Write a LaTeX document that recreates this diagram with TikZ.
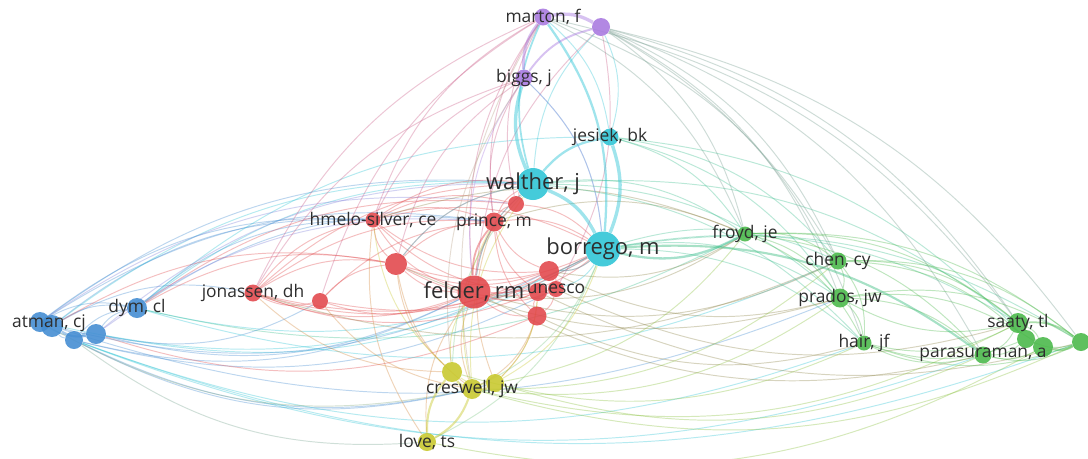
\documentclass[tikz,border=0pt]{standalone}
\usepackage{fontspec}
\setmainfont{Open Sans}
\usetikzlibrary{calc, backgrounds}
\definecolor{vred}{RGB}{226,70,74}
\definecolor{vgreen}{RGB}{72,184,72}
\definecolor{vblue}{RGB}{66,140,210}
\definecolor{vyellow}{RGB}{200,200,44}
\definecolor{vpurple}{RGB}{168,120,224}
\definecolor{vcyan}{RGB}{44,196,214}
\tikzset{
  item/.style = {circle, inner sep=0pt, draw=none, fill opacity=.88,
                 minimum size=#1*0.02cm}, % diameter given in pixels
  lbl/.style  = {inner sep=0pt, text=black!82, font=\fontsize{9.9}{11}\selectfont},
  biglbl/.style = {lbl, font=\fontsize{12.5}{14}\selectfont},
  link/.style = {line width=.55pt, draw opacity=.35},
  heavy/.style = {draw opacity=.45}
}
\begin{document}
\begin{tikzpicture}[x=0.02cm, y=-0.02cm]
  \useasboundingbox (0,0) rectangle (1088,458);

  % blue cluster
  \node [item=20, fill=vblue] (atmanA) at (40,322) {};
  \node [item=22, fill=vblue] (atmanB) at (52,326) {};
  \node [item=18, fill=vblue] (blueC) at (74,340) {};
  \node [item=20, fill=vblue] (blueD) at (96,334) {};
  \node [item=20, fill=vblue] (dym) at (137,308) {};
  % red cluster
  \node [item=17, fill=vred] (jonassen) at (253,293) {};
  \node [item=16, fill=vred] (redA) at (320,301) {};
  \node [item=15, fill=vred] (hmelo) at (373,220) {};
  \node [item=22, fill=vred] (redB) at (396,264) {};
  \node [item=19, fill=vred] (prince) at (494,222) {};
  \node [item=16, fill=vred] (redC) at (516,204) {};
  \node [item=33, fill=vred] (felder) at (474,292) {};
  \node [item=20, fill=vred] (redD) at (549,271) {};
  \node [item=18, fill=vred] (unescoA) at (538,292) {};
  \node [item=16, fill=vred] (unescoB) at (556,289) {};
  \node [item=19, fill=vred] (redE) at (537,316) {};
  % cyan cluster
  \node [item=32, fill=vcyan] (walther) at (533,184) {};
  \node [item=35, fill=vcyan] (borrego) at (603,249) {};
  \node [item=17, fill=vcyan] (jesiek) at (610,137) {};
  % purple cluster
  \node [item=17, fill=vpurple] (marton) at (543,17) {};
  \node [item=18, fill=vpurple] (purpleA) at (601,27) {};
  \node [item=17, fill=vpurple] (biggs) at (524,78) {};
  % green cluster
  \node [item=15, fill=vgreen] (froyd) at (745,234) {};
  \node [item=17, fill=vgreen] (chen) at (838,261) {};
  \node [item=19, fill=vgreen] (prados) at (840,298) {};
  \node [item=15, fill=vgreen] (hair) at (864,343) {};
  \node [item=20, fill=vgreen] (saaty) at (1018,323) {};
  \node [item=18, fill=vgreen] (greenA) at (1026,339) {};
  \node [item=20, fill=vgreen] (greenB) at (1043,347) {};
  \node [item=18, fill=vgreen] (greenC) at (1081,342) {};
  \node [item=17, fill=vgreen] (parasuraman) at (983,355) {};
  % yellow cluster
  \node [item=20, fill=vyellow] (creswellA) at (452,372) {};
  \node [item=20, fill=vyellow] (creswell) at (472,389) {};
  \node [item=18, fill=vyellow] (creswellB) at (495,383) {};
  \node [item=18, fill=vyellow] (love) at (427,442) {};

  \begin{pgfonlayer}{background}
    \fill [white] (0,0) rectangle (1088,458);
    % thin links, bent away from the middle of the map
    \foreach \a/\b/\c in {
      atmanA/dym/vblue, atmanB/dym/vblue, blueC/dym/vblue, blueD/dym/vblue,
      atmanA/blueD/vblue, atmanB/blueC/vblue, atmanB/jonassen/vblue,
      atmanA/hmelo/vblue, atmanB/hmelo/vblue, atmanA/prince/vblue,
      atmanB/walther/vcyan, atmanA/walther/vblue, dym/walther/vcyan,
      dym/hmelo/vblue, dym/prince/vblue, dym/borrego/vcyan, atmanA/borrego/vcyan,
      blueD/borrego/vcyan, blueC/felder/vblue, blueD/felder/vblue,
      atmanB/redB/vred, dym/redB/vred, blueC/unescoB/vblue, blueD/redE/vred,
      blueC/creswellB/vblue, blueC/greenC/vcyan, dym/jesiek/vcyan,
      dym/froyd/vcyan!50!vgreen, blueD/redA/vblue, dym/redC/vred,
      atmanB/redD/vblue, blueC/creswell/vblue, atmanA/redC/vpurple!60!vblue,
      blueC/hair/vcyan, atmanB/prados/vblue, blueD/prince/vpurple!60!vblue,
      blueD/walther/vpurple!60!vblue, blueC/parasuraman/vcyan, dym/chen/vcyan,
      jonassen/redA/vred, jonassen/hmelo/vred, jonassen/felder/vred,
      jonassen/prince/vred, jonassen/redB/vred, jonassen/borrego/vred,
      jonassen/walther/vred, jonassen/redD/vred, jonassen/unescoA/vred,
      hmelo/redB/vred, hmelo/prince/vred, hmelo/felder/vred, hmelo/redC/vred,
      hmelo/walther/vred, hmelo/borrego/vred, hmelo/unescoA/vred, hmelo/redD/vred,
      redA/felder/vred, redA/redB/vred, redA/prince/vred, redA/borrego/vred,
      redB/felder/vred, redB/prince/vred, redB/redD/vred, redB/borrego/vred,
      redB/unescoB/vred, redB/walther/vred, prince/redC/vred, prince/redD/vred,
      prince/walther/vred, prince/borrego/vred, prince/unescoA/vred,
      prince/redE/vred, felder/redD/vred, felder/unescoA/vred, felder/unescoB/vred,
      felder/redE/vred, felder/borrego/vred, felder/walther/vred, felder/redC/vred,
      redD/unescoB/vred, redD/borrego/vred, unescoA/redE/vred, unescoB/redE/vred,
      unescoA/unescoB/vred, redC/walther/vred, redC/borrego/vred,
      hmelo/marton/vred!60!vpurple, jonassen/marton/vred!60!vpurple,
      redB/biggs/vred!60!vpurple, felder/marton/vred!60!vpurple,
      prince/biggs/vred!60!vpurple, felder/purpleA/vred!60!vpurple,
      redC/marton/vred!60!vpurple, hmelo/biggs/vred!60!vpurple,
      redA/marton/vred!60!vpurple, unescoB/purpleA/vred!60!vpurple,
      prince/marton/vred!60!vpurple, jonassen/biggs/vred!60!vpurple,
      felder/froyd/vred!45!vgreen, felder/chen/vred!45!vgreen,
      redD/froyd/vred!45!vgreen, unescoB/saaty/vred!45!vgreen,
      redE/hair/vred!45!vgreen, felder/parasuraman/vred!45!vgreen,
      prince/froyd/vred!45!vgreen, redB/prados/vred!45!vgreen,
      hmelo/froyd/vred!45!vgreen, jonassen/chen/vred!45!vgreen,
      redD/prados/vred!45!vgreen, unescoA/greenC/vred!45!vgreen,
      felder/creswell/vred!50!vyellow, jonassen/creswellA/vred!50!vyellow,
      redB/creswellA/vred!50!vyellow, hmelo/love/vred!50!vyellow,
      prince/creswellB/vred!50!vyellow, redA/creswell/vred!50!vyellow,
      redE/creswell/vred!50!vyellow, unescoA/creswellB/vred!50!vyellow,
      felder/love/vred!50!vyellow, redB/creswell/vred!50!vyellow,
      jesiek/purpleA/vcyan, jesiek/marton/vcyan, borrego/biggs/vcyan,
      walther/purpleA/vcyan, walther/felder/vcyan, borrego/redD/vcyan,
      borrego/unescoB/vcyan, walther/redB/vcyan,
      borrego/creswell/vcyan!50!vyellow, walther/creswellA/vcyan!50!vyellow,
      borrego/love/vcyan!50!vyellow,
      borrego/chen/vcyan!50!vgreen, borrego/prados/vcyan!50!vgreen,
      borrego/hair/vcyan!50!vgreen, borrego/saaty/vcyan!50!vgreen,
      borrego/greenC/vcyan!50!vgreen, walther/froyd/vcyan!50!vgreen,
      walther/prados/vcyan!50!vgreen, jesiek/froyd/vcyan!50!vgreen,
      jesiek/chen/vcyan!50!vgreen, jesiek/prados/vcyan!50!vgreen,
      walther/saaty/vcyan!50!vgreen, jesiek/greenA/vcyan!50!vgreen,
      walther/hair/vcyan!50!vgreen,
      purpleA/greenC/vpurple!45!vgreen, purpleA/saaty/vpurple!45!vgreen,
      purpleA/parasuraman/vpurple!45!vgreen, purpleA/prados/vpurple!45!vgreen,
      purpleA/chen/vpurple!45!vgreen, purpleA/hair/vpurple!45!vgreen,
      purpleA/froyd/vpurple!45!vgreen, marton/froyd/vpurple!45!vgreen,
      marton/chen/vpurple!45!vgreen, marton/saaty/vpurple!45!vgreen,
      biggs/felder/vpurple, biggs/borrego/vpurple,
      marton/creswell/vpurple!50!vyellow, biggs/creswellA/vpurple!50!vyellow,
      froyd/chen/vgreen, froyd/prados/vgreen, froyd/hair/vgreen,
      froyd/saaty/vgreen, froyd/greenC/vgreen, froyd/parasuraman/vgreen,
      chen/prados/vgreen, chen/saaty/vgreen, chen/greenA/vgreen,
      chen/greenC/vgreen, chen/hair/vgreen, prados/hair/vgreen,
      prados/saaty/vgreen, prados/parasuraman/vgreen, prados/greenB/vgreen,
      prados/greenC/vgreen, hair/saaty/vgreen, hair/parasuraman/vgreen,
      hair/greenA/vgreen, hair/greenC/vgreen, saaty/greenB/vgreen,
      greenA/greenC/vgreen, parasuraman/greenB/vgreen, parasuraman/greenC/vgreen,
      parasuraman/saaty/vgreen, parasuraman/greenA/vgreen,
      creswellA/creswellB/vyellow, creswellA/felder/vyellow,
      creswellB/unescoA/vyellow, creswell/prince/vyellow,
      creswellA/hmelo/vyellow, creswell/walther/vyellow, creswellB/borrego/vyellow,
      creswell/saaty/vyellow!50!vgreen, creswell/greenC/vyellow!50!vgreen,
      creswellB/parasuraman/vyellow!50!vgreen, creswellA/hair/vyellow!50!vgreen,
      creswell/prados/vyellow!50!vgreen, love/greenB/vyellow!50!vgreen,
      creswellB/froyd/vyellow!50!vgreen, creswell/chen/vyellow!50!vgreen,
      creswell/atmanA/vyellow!50!vblue, love/blueC/vyellow!40!vblue}
      \draw [link, \c] let \p1=(\a), \p2=(\b),
        \n1={20*(2*(((30.73-\x1/10)*((\y2)-(\y1))/10-(-14.23-\y1/10)*((\x2)-(\x1))/10)>0)-1)}
        in (\a) to [bend left=\n1] (\b);
    % heavy links
    \foreach \a/\b/\c/\w in {
      walther/borrego/vcyan/1.9pt, borrego/jesiek/vcyan/1.9pt,
      walther/biggs/vcyan/1.9pt, walther/jesiek/vcyan/1.3pt,
      borrego/marton/vcyan/1.3pt, walther/marton/vcyan/1pt,
      borrego/froyd/vcyan!50!vgreen/1.3pt, borrego/parasuraman/vcyan!40!vgreen/1.2pt,
      marton/purpleA/vpurple/1.9pt, marton/biggs/vpurple/1.6pt,
      purpleA/biggs/vpurple/1.1pt, saaty/greenA/vgreen/1.3pt,
      greenA/greenB/vgreen/1.3pt, greenB/greenC/vgreen/1.3pt,
      saaty/greenC/vgreen/1pt, creswellA/creswell/vyellow/1.4pt,
      creswell/creswellB/vyellow/1.4pt, love/creswellA/vyellow/1.2pt,
      love/creswell/vyellow/1.2pt, blueC/blueD/vblue/1.3pt,
      atmanB/blueD/vblue/1.3pt, felder/prince/vred/1pt}
      \draw [heavy, \c, line width=\w] let \p1=(\a), \p2=(\b),
        \n1={20*(2*(((30.73-\x1/10)*((\y2)-(\y1))/10-(-14.23-\y1/10)*((\x2)-(\x1))/10)>0)-1)}
        in (\a) to [bend left=\n1] (\b);
  \end{pgfonlayer}

  % labels on top of the circles
  \node [lbl] (atmanL) at (49,323) {atman, cj};
  \node [lbl] (dymL) at (dym) {dym, cl};
  \node [lbl] (jonassenL) at (jonassen) {jonassen, dh};
  \node [lbl] (hmeloL) at (hmelo) {hmelo-silver, ce};
  \node [lbl] (princeL) at (prince) {prince, m};
  \node [biglbl] (felderL) at (felder) {felder, rm};
  \node [lbl] (unescoL) at (unescoB) {unesco};
  \node [biglbl] (waltherL) at (walther) {walther, j};
  \node [biglbl] (borregoL) at (borrego) {borrego, m};
  \node [lbl] (jesiekL) at (jesiek) {jesiek, bk};
  \node [lbl] (martonL) at (marton) {marton, f};
  \node [lbl] (biggsL) at (biggs) {biggs, j};
  \node [lbl] (froydL) at (froyd) {froyd, je};
  \node [lbl] (chenL) at (chen) {chen, cy};
  \node [lbl] (pradosL) at (prados) {prados, jw};
  \node [lbl] (hairL) at (hair) {hair, jf};
  \node [lbl] (saatyL) at (saaty) {saaty, tl};
  \node [lbl] (parasuramanL) at (parasuraman) {parasuraman, a};
  \node [lbl] (creswellL) at (creswell) {creswell, jw};
  \node [lbl] (loveL) at (love) {love, ts};
\end{tikzpicture}
\end{document}
